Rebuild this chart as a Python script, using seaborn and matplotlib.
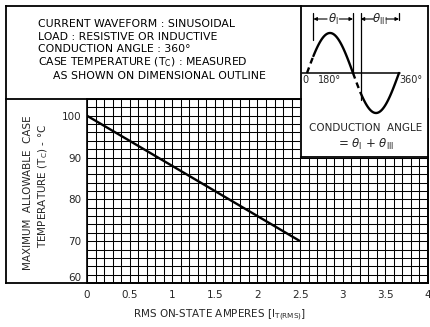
import numpy as np
import pandas as pd
import matplotlib
matplotlib.use("Agg")
import matplotlib.pyplot as plt
import seaborn as sns
from matplotlib.lines import Line2D
from matplotlib.patches import Rectangle

# ---- data ----
current = [0.0, 2.5]
case_temp = [100.0, 70.0]
x_ticks = [0, 0.5, 1, 1.5, 2, 2.5, 3, 3.5, 4]
x_tick_labels = ["0", "0.5", "1", "1.5", "2", "2.5", "3", "3.5", "4"]
y_ticks = [60, 70, 80, 90, 100]
y_tick_labels = ["60", "70", "80", "90", "100"]
notes = ["CURRENT WAVEFORM : SINUSOIDAL",
         "LOAD : RESISTIVE OR INDUCTIVE",
         "CONDUCTION ANGLE : 360\u00b0",
         "CASE TEMPERATURE (T$_\\mathregular{C}$) : MEASURED",
         "AS SHOWN ON DIMENSIONAL OUTLINE"]

sns.set_theme(style="white")
plt.rcParams["font.family"] = ["DejaVu Sans"]
plt.rcParams["mathtext.fontset"] = "dejavusans"

W, H = 431, 327
fig = plt.figure(figsize=(W / 100, H / 100), dpi=100)
fig.patch.set_facecolor("white")

def fx(px):
    return px / W

def fy(py):
    return 1 - py / H

# grid area in pixels
gx0, gx1, gy0, gy1 = 87, 428, 99, 283
ax = fig.add_axes([fx(gx0), fy(gy1), (gx1 - gx0) / W, (gy1 - gy0) / H])
ax.set_xlim(0, 4)
ax.set_ylim(60, 104)

df = pd.DataFrame({"current": current, "temp": case_temp})
sns.lineplot(data=df, x="current", y="temp", color="black", lw=1.7, ax=ax,
             zorder=5, solid_capstyle="butt")

ax.set_xticks(x_ticks)
ax.set_xticklabels(x_tick_labels, fontsize=7.5)
ax.set_yticks(y_ticks)
ax.set_yticklabels(y_tick_labels, fontsize=7.5)
ax.set_xticks(np.round(np.arange(0, 4.001, 0.1), 2), minor=True)
ax.set_yticks(np.arange(60, 104.1, 2), minor=True)
ax.tick_params(which="both", length=0)
ax.tick_params(axis="x", pad=5)
ax.tick_params(axis="y", pad=4)
ax.grid(which="both", color="black", lw=0.75)
ax.set_axisbelow(True)
ax.set_xlabel("")
ax.set_ylabel("")
for s in ax.spines.values():
    s.set_color("black")
    s.set_linewidth(1.2)
ax.get_yticklabels()[0].set_va("bottom")

# blank out the inset area of the grid
ax.add_patch(Rectangle((2.5, 90), 1.5, 14.5, facecolor="white",
                       edgecolor="none", zorder=3, clip_on=False))

# frame lines (figure pixels)
lw_f = 1.3
frame = [((6, 6), (6, gy1)), ((6, 428), (6, 6)), ((428, 428), (6, gy1)),
         ((6, 428), (gy1, gy1)), ((6, 301), (gy0, gy0)),
         ((301, 301), (6, 157)), ((301, 428), (157, 157))]
for xs, ys in frame:
    fig.add_artist(Line2D([fx(x) for x in xs], [fy(y) for y in ys],
                          color="black", lw=lw_f, solid_capstyle="projecting"))

# notes text
note_pos = [(38, 24), (38, 37), (38, 49), (38, 62), (53, 76)]
for t, (px, py) in zip(notes, note_pos):
    fig.text(fx(px), fy(py), t, fontsize=7.8, ha="left", va="center",
             color="black")

# y label (two lines)
fig.text(fx(28), fy(193), "MAXIMUM  ALLOWABLE  CASE", rotation=90,
         fontsize=7.5, ha="center", va="center")
fig.text(fx(43), fy(186), "TEMPERATURE (T$_\\mathregular{C}$) - \u00b0C",
         rotation=90, fontsize=7.5, ha="center", va="center")

# x label
fig.text(fx(220), fy(315), r"RMS ON-STATE AMPERES $\left[\mathregular{I_{T(RMS)}}\right]$",
         fontsize=7.5, ha="center", va="center")

# ---- inset waveform diagram ----
px_per_deg = 46 / 180.0
x0_px, y0_px, amp_px = 307, 73, 40
iax = fig.add_axes([fx(301), fy(157), 127 / W, 151 / H])
iax.set_xlim((301 - x0_px) / px_per_deg, (428 - x0_px) / px_per_deg)
iax.set_ylim(-(157 - y0_px) / amp_px, (y0_px - 6) / amp_px)
iax.axis("off")
iax.patch.set_alpha(0)

fire1, fire2 = 25, 210
seg = [(0, fire1, True), (fire1, 180, False), (180, fire2, True), (fire2, 360, False)]
for a, b, dashed in seg:
    th = np.linspace(a, b, 60)
    kw = {"dashes": (2.5, 1.8)} if dashed else {}
    iax.plot(th, np.sin(np.radians(th)), color="black", lw=1.7, **kw)
# horizontal axis
iax.plot([(302 - x0_px) / px_per_deg, 363], [0, 0], color="black", lw=1.1)
# vertical markers
top = (y0_px - 13) / amp_px
iax.plot([fire1, fire1], [top, 0.83], color="black", lw=0.9)
iax.plot([180, 180], [top, 0], color="black", lw=0.9)
iax.plot([fire2, fire2], [top, -0.68], color="black", lw=0.9)
iax.plot([360, 360], [top, (y0_px - 20) / amp_px], color="black", lw=0.9)
# angle arrows
ya = (y0_px - 19) / amp_px
for a, b, lab in [(fire1, 180, r"$\theta_{\mathregular{I}}$"),
                  (fire2, 360, r"$\theta_{\mathregular{III}}$")]:
    mid = (a + b) / 2
    gap = 24
    iax.annotate("", xy=(a, ya), xytext=(mid - gap, ya),
                 arrowprops=dict(arrowstyle="-|>", color="black", lw=0.8,
                                 mutation_scale=5, shrinkA=0, shrinkB=0))
    iax.annotate("", xy=(b, ya), xytext=(mid + gap, ya),
                 arrowprops=dict(arrowstyle="-|>", color="black", lw=0.8,
                                 mutation_scale=5, shrinkA=0, shrinkB=0))
    iax.text(mid, ya, lab, fontsize=8.5, ha="center", va="center")
# angle labels
yl = -0.18
iax.text((305 - x0_px) / px_per_deg, yl, "0", fontsize=7, ha="center", va="center")
iax.text((330 - x0_px) / px_per_deg, yl, "180\u00b0", fontsize=7, ha="center", va="center")
iax.text((411 - x0_px) / px_per_deg, yl, "360\u00b0", fontsize=7, ha="center", va="center")

fig.text(fx(366), fy(128), "CONDUCTION  ANGLE", fontsize=7.5, ha="center", va="center")
fig.text(fx(366), fy(144), r"= $\theta_{\mathregular{I}}$ + $\theta_{\mathregular{III}}$",
         fontsize=8.5, ha="center", va="center")

fig.savefig("out.png", dpi=100, facecolor="white")
